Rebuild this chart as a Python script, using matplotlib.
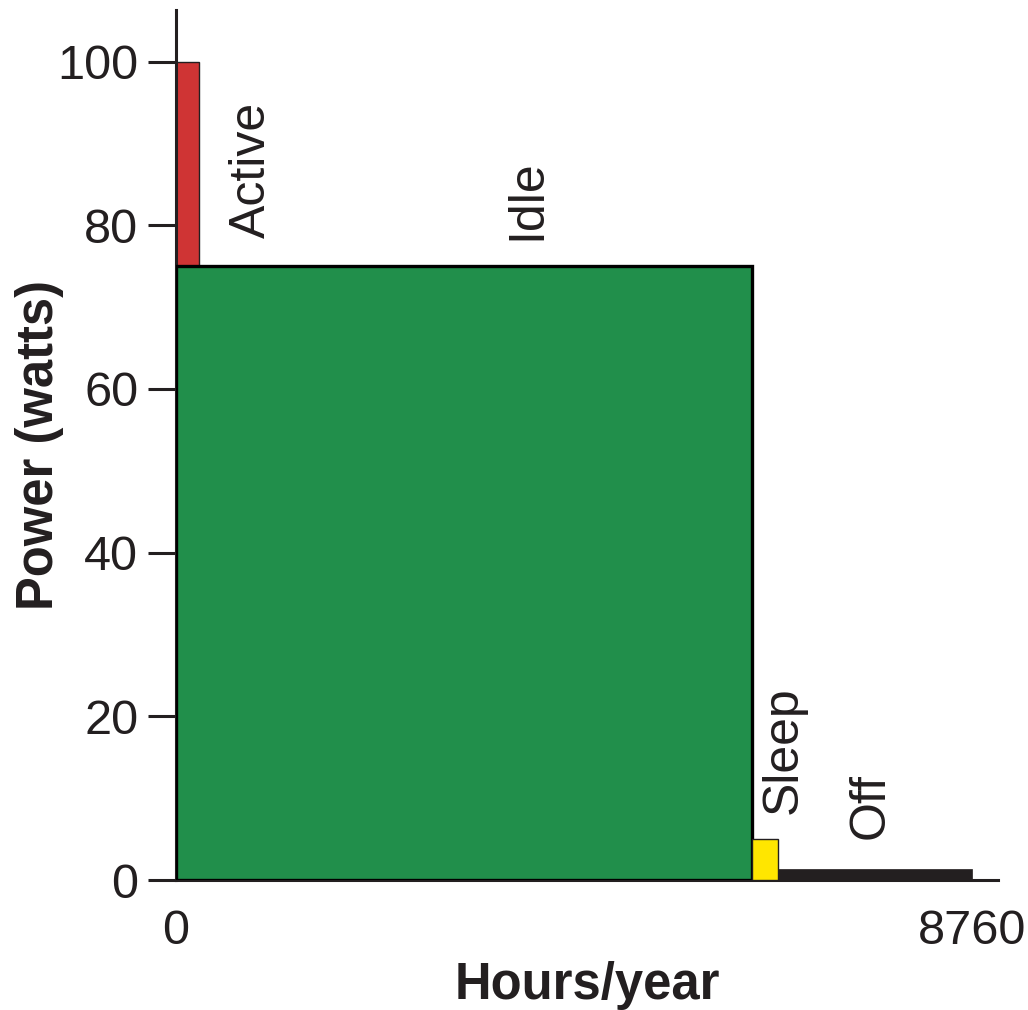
import matplotlib.pyplot as plt

plt.rcParams['font.family'] = ['Liberation Sans', 'DejaVu Sans']

# Data (schematic power profile of a device over one year)
states = ['Active', 'Idle', 'Sleep', 'Off']
start_hours = [0, 0, 6340, 6625]
duration_hours = [250, 6340, 285, 2135]
power_watts = [100, 75, 5, 1.3]
colors = ['#cf3434', '#218f4b', '#ffe600', '#231f20']
edge_widths = [1.0, 2.4, 1.0, 0.5]

x_ticks = [0, 8760]
y_ticks = [0, 20, 40, 60, 80, 100]

# label anchors (hours, watts) for the rotated state names
label_pos = [(840, 78.5), (3870, 78.2), (6690, 8.1), (7640, 5.0)]

ink = '#231f20'

fig = plt.figure(figsize=(10.28, 10.10), dpi=100)
ax = fig.add_axes([0.171, 0.1287, 0.80, 0.8613])

for i in range(len(states)):
    ax.bar(start_hours[i], power_watts[i], width=duration_hours[i], align='edge',
           color=colors[i], edgecolor='black' if i == 1 else ink,
           linewidth=edge_widths[i], zorder=2 + i)
    ax.text(label_pos[i][0], label_pos[i][1], states[i], rotation=90,
            ha='center', va='bottom', fontsize=36, color=ink)

ax.set_xlim(0, 9046)
ax.set_ylim(0, 106.3)
ax.set_xticks(x_ticks)
ax.set_xticklabels([str(v) for v in x_ticks])
ax.set_yticks(y_ticks)

for side in ['top', 'right']:
    ax.spines[side].set_visible(False)
for side in ['left', 'bottom']:
    ax.spines[side].set_linewidth(2.2)
    ax.spines[side].set_color(ink)

ax.tick_params(axis='y', length=20, width=2.2, color=ink, pad=7,
               labelsize=35, labelcolor=ink)
ax.tick_params(axis='x', length=0, pad=21, labelsize=35, labelcolor=ink)

ax.set_xlabel('Hours/year', fontsize=36.5, fontweight='bold', color=ink, labelpad=5)
ax.set_ylabel('Power (watts)', fontsize=36.5, fontweight='bold', color=ink, labelpad=-5)

fig.savefig('out.png', dpi=100)
